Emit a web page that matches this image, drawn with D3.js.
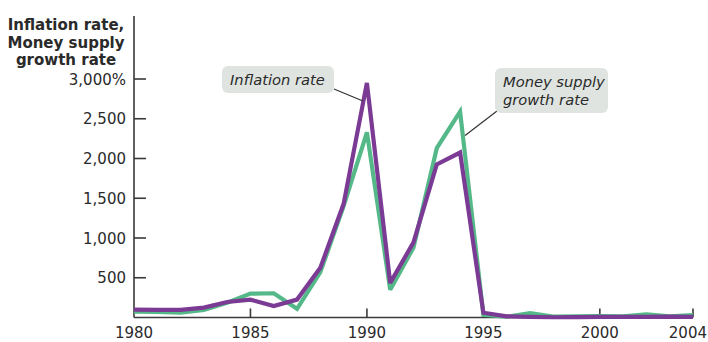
<!DOCTYPE html>
<html>
<head>
<meta charset="utf-8">
<script src="https://cdn.jsdelivr.net/npm/d3@7"></script>
<style>
  html, body { margin: 0; padding: 0; background: #fff; }
  svg { display: block; }
  text { font-family: "DejaVu Sans", Verdana, sans-serif; fill: #2a2a2a; }
</style>
</head>
<body>
<svg id="chart" width="708" height="342"></svg>
<script>
// Annual rates, percent
const years = [1980,1981,1982,1983,1984,1985,1986,1987,1988,1989,1990,1991,1992,
               1993,1994,1995,1996,1997,1998,1999,2000,2001,2002,2003,2004];
const inflation = [100,95,95,125,195,225,145,225,625,1430,2950,435,945,
                   1925,2075,60,15,7,3,5,7,7,9,12,7];
const moneyGrowth = [75,70,60,95,185,300,305,110,570,1400,2330,350,880,
                     2130,2590,35,10,55,12,15,18,15,38,15,30];

const yTicks = [500,1000,1500,2000,2500,3000];
const xTicks = [1980,1985,1990,1995,2000,2004];
const titleLines = ["Inflation rate,", "Money supply", "growth rate"];

const svg = d3.select("#chart");
const axisColor = "#3a3a3a";

const x = d3.scaleLinear().domain([1980, 2004]).range([134, 693]);
const y = d3.scaleLinear().domain([0, 3000]).range([317.5, 79]);

// y axis
svg.append("line")
  .attr("x1", x(1980)).attr("x2", x(1980))
  .attr("y1", 16).attr("y2", y(0))
  .attr("stroke", axisColor).attr("stroke-width", 1.6);

const yt = svg.append("g");
yt.selectAll("line").data(yTicks).join("line")
  .attr("x1", x(1980)).attr("x2", x(1980) + 12)
  .attr("y1", d => y(d)).attr("y2", d => y(d))
  .attr("stroke", axisColor).attr("stroke-width", 1.6);
yt.selectAll("text").data(yTicks).join("text")
  .attr("x", 126).attr("y", d => y(d) + 5.5)
  .attr("text-anchor", "end")
  .attr("font-size", 15)
  .text(d => d3.format(",")(d) + (d === 3000 ? "%" : ""));

// y axis title
svg.append("g").selectAll("text").data(titleLines).join("text")
  .attr("x", 66).attr("y", (d, i) => 30 + i * 17.5)
  .attr("text-anchor", "middle")
  .attr("font-size", 15)
  .attr("font-weight", 700)
  .attr("fill", "#1a1a1a")
  .text(d => d);

// x axis
svg.append("line")
  .attr("x1", x(1980)).attr("x2", x(2004))
  .attr("y1", y(0)).attr("y2", y(0))
  .attr("stroke", axisColor).attr("stroke-width", 1.6);

const xt = svg.append("g");
xt.selectAll("line").data(xTicks.slice(1)).join("line")
  .attr("x1", d => x(d)).attr("x2", d => x(d))
  .attr("y1", y(0)).attr("y2", y(0) - 9)
  .attr("stroke", axisColor).attr("stroke-width", 1.6);
xt.selectAll("text").data(xTicks).join("text")
  .attr("x", d => d === 2004 ? 707 : x(d))
  .attr("y", 338)
  .attr("text-anchor", d => d === 2004 ? "end" : "middle")
  .attr("font-size", 15)
  .text(d => d);

// series lines
const line = d3.line().x((d, i) => x(years[i])).y(d => y(d));
svg.append("path").datum(moneyGrowth)
  .attr("d", line).attr("fill", "none")
  .attr("stroke", "#55b888").attr("stroke-width", 4.2)
  .attr("stroke-linejoin", "miter").attr("stroke-miterlimit", 3);
svg.append("path").datum(inflation)
  .attr("d", line).attr("fill", "none")
  .attr("stroke", "#7b3b94").attr("stroke-width", 4.2)
  .attr("stroke-linejoin", "miter").attr("stroke-miterlimit", 3);

// callouts
function callout(lines, bx, by, bw, bh, tx, ty, lx1, ly1, lx2, ly2) {
  const g = svg.append("g");
  g.append("line")
    .attr("x1", lx1).attr("y1", ly1).attr("x2", lx2).attr("y2", ly2)
    .attr("stroke", "#333").attr("stroke-width", 1.2);
  g.append("rect")
    .attr("x", bx).attr("y", by).attr("width", bw).attr("height", bh)
    .attr("rx", 6).attr("fill", "#dfe4e0");
  g.selectAll("text").data(lines).join("text")
    .attr("x", tx).attr("y", (d, i) => ty + i * 18)
    .attr("font-size", 14.7)
    .attr("font-style", "italic")
    .attr("fill", "#333")
    .text(d => d);
}
callout(["Inflation rate"], 222, 66, 112, 27, 230, 85,
        334, 89, x(1990) - 4, y(inflation[10]) + 18);
callout(["Money supply", "growth rate"], 495, 68, 113, 45, 503, 87,
        497, 111, x(1994) + 5, y(moneyGrowth[14]) + 24);
</script>
</body>
</html>
